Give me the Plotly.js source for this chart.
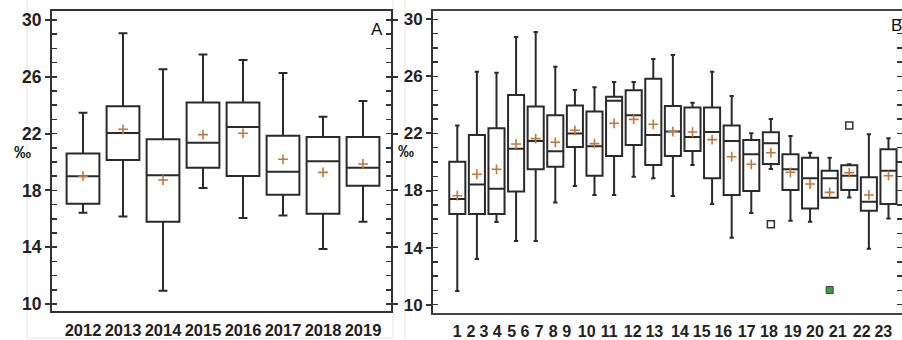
<!DOCTYPE html>
<html>
<head>
<meta charset="utf-8">
<script src="https://cdn.plot.ly/plotly-3.0.1.min.js"></script>
<style>
html,body{margin:0;padding:0;background:#fff;}
#chart{width:902px;height:340px;}
</style>
</head>
<body>
<div id="chart"></div>
<script>
// ---------- Panel A data (by year) ----------
const years = ['2012','2013','2014','2015','2016','2017','2018','2019'];
const aLow  = [16.43, 16.17, 10.94, 18.17, 16.06, 16.24, 13.87, 15.80];
const aQ1   = [17.06, 20.14, 15.80, 19.60, 19.01, 17.70, 16.36, 18.33];
const aMed  = [18.99, 22.04, 19.06, 21.36, 22.46, 19.32, 20.05, 19.60];
const aQ3   = [20.59, 23.92, 21.60, 24.18, 24.18, 21.85, 21.76, 21.76];
const aHigh = [23.47, 29.06, 26.53, 27.56, 27.18, 26.27, 23.19, 24.30];
const aMean = [19.00, 22.30, 18.73, 21.93, 22.02, 20.19, 19.27, 19.86];

// ---------- Panel B data (by site) ----------
const sites = [1,2,3,4,5,6,7,8,9,10,11,12,13,14,15,16,17,18,19,20,21,22,23];
const bLow  = [10.96,13.20,15.79,14.46,14.46,17.17,18.32,17.69,17.69,18.97,18.86,17.62,19.79,17.06,14.70,16.43,19.51,15.89,15.82,17.50,17.52,13.93,16.05];
const bQ1   = [16.36,16.36,16.36,17.94,19.49,19.67,21.05,19.04,20.42,21.19,19.79,20.42,20.77,18.86,17.69,17.97,19.86,18.04,16.75,17.50,18.04,16.59,17.06];
const bMed  = [17.41,18.43,18.13,20.93,21.47,20.75,21.99,21.10,24.30,23.27,21.89,22.13,21.75,22.10,21.47,20.54,21.31,19.49,18.86,18.86,19.04,17.22,19.39];
const bQ3   = [20.02,21.89,22.36,24.70,23.88,23.27,23.95,23.53,24.58,25.02,25.84,23.93,23.81,23.81,22.55,21.54,22.08,20.54,20.30,19.39,19.77,18.93,20.89];
const bHigh = [22.55,26.33,26.26,28.76,29.11,26.68,25.05,25.23,25.61,25.61,27.22,27.50,24.16,26.33,24.63,22.01,23.01,21.82,20.65,20.30,19.84,21.94,21.66];
const bMean = [17.64,19.14,19.49,21.26,21.64,21.38,22.22,21.29,22.71,22.99,22.64,22.13,22.10,21.57,20.37,19.84,20.65,19.28,18.46,17.87,19.25,17.69,19.04];
const bOutX = [17, 21];
const bOutY = [15.63, 22.55];
const bOutGreenX = [20];
const bOutGreenY = [11.03];

// ---------- styling / layout constants ----------
const W = 902, H = 340;
const px = v => v / W;
const py = v => 1 - v / H;
// tick label positions of panel B (the labels in the original are not centred on the boxes)
const bLabelPix = [457.3,471,484,497.3,511.7,525,539.3,553.3,566.7,586.7,609.3,632.7,654.3,680,701.7,723.3,746.7,769,792.7,815,837.7,861.7,883.3];
const bPitch = 19.6, bFirst = 457.3;
const bLabelPos = bLabelPix.map(p => 1 + (p - bFirst) / bPitch);

const FAM = 'Liberation Sans, Arial, sans-serif';
const boxLine = {color:'#2a2a2a', width:2};
const meanColor = '#c2773d';
const xFontA = {family:FAM, size:16.5, color:'#222', weight:'bold'};
const yFontA = {family:FAM, size:17.5, color:'#222', weight:'bold'};
const xFontB = {family:FAM, size:16, color:'#222', weight:'bold'};
const yFontB = {family:FAM, size:17, color:'#222', weight:'bold'};

const traces = [
  {type:'box', x:years, q1:aQ1, median:aMed, q3:aQ3, lowerfence:aLow, upperfence:aHigh,
   xaxis:'x', yaxis:'y', width:0.82, whiskerwidth:0.27, line:boxLine, fillcolor:'#ffffff',
   boxpoints:false, hoverinfo:'skip', showlegend:false},
  {type:'scatter', mode:'markers', x:years, y:aMean, xaxis:'x', yaxis:'y',
   marker:{symbol:'cross-thin', size:7, color:meanColor, line:{color:meanColor, width:1.6}},
   hoverinfo:'skip', showlegend:false},
  {type:'box', x:sites, q1:bQ1, median:bMed, q3:bQ3, lowerfence:bLow, upperfence:bHigh,
   xaxis:'x2', yaxis:'y2', width:0.82, whiskerwidth:0.27, line:boxLine, fillcolor:'#ffffff',
   boxpoints:false, hoverinfo:'skip', showlegend:false},
  {type:'scatter', mode:'markers', x:sites, y:bMean, xaxis:'x2', yaxis:'y2',
   marker:{symbol:'cross-thin', size:7, color:meanColor, line:{color:meanColor, width:1.6}},
   hoverinfo:'skip', showlegend:false},
  {type:'scatter', mode:'markers', x:bOutX, y:bOutY, xaxis:'x2', yaxis:'y2',
   marker:{symbol:'square-open', size:7, color:'#333', line:{color:'#333', width:1.5}},
   hoverinfo:'skip', showlegend:false},
  {type:'scatter', mode:'markers', x:bOutGreenX, y:bOutGreenY, xaxis:'x2', yaxis:'y2',
   marker:{symbol:'square', size:7, color:'#3c9a4a', line:{color:'#2d4d2d', width:1}},
   hoverinfo:'skip', showlegend:false}
];

const yCommon = {
  dtick:4, tick0:10, ticks:'outside', ticklen:5, tickwidth:2, tickcolor:'#333',
  minor:{dtick:1, ticks:'inside', ticklen:5, tickwidth:1.5, tickcolor:'#333'},
  showline:true, linecolor:'#333', linewidth:2, mirror:'ticks',
  showgrid:false, zeroline:false, fixedrange:true
};

const layout = {
  width:W, height:H,
  margin:{l:0, r:0, t:0, b:0},
  paper_bgcolor:'#fff', plot_bgcolor:'#fff',
  showlegend:false,
  xaxis:{domain:[px(52), px(391)], type:'category', range:[-0.775, 7.7], tickangle:0,
    showline:true, linecolor:'#333', linewidth:2, mirror:true,
    ticks:'outside', ticklen:3, tickcolor:'rgba(0,0,0,0)',
    tickfont:xFontA, showgrid:false, zeroline:false, fixedrange:true},
  yaxis:Object.assign({}, yCommon, {domain:[py(311), py(11)], range:[9.51, 30.63], anchor:'x', tickfont:yFontA}),
  xaxis2:{domain:[px(433), 1], range:[-0.24, 23.69], anchor:'y2', tickangle:0,
    tickvals:bLabelPos, ticktext:sites.map(String),
    showline:true, linecolor:'#444', linewidth:2, mirror:true,
    ticks:'outside', ticklen:3, tickcolor:'rgba(0,0,0,0)',
    tickfont:xFontB, showgrid:false, zeroline:false, fixedrange:true},
  yaxis2:Object.assign({}, yCommon, {domain:[py(313), py(11)], range:[9.42, 30.58], anchor:'x2', tickfont:yFontB}),
  annotations:[
    {xref:'paper', yref:'paper', x:px(22), y:py(152), text:'‰', showarrow:false,
     xanchor:'center', yanchor:'middle', font:{family:FAM, size:17, color:'#222', weight:'bold'}},
    {xref:'paper', yref:'paper', x:px(406), y:py(151), text:'‰', showarrow:false,
     xanchor:'center', yanchor:'middle', font:{family:FAM, size:16, color:'#222', weight:'bold'}},
    {xref:'paper', yref:'paper', x:px(377), y:py(29), text:'A', showarrow:false,
     xanchor:'center', yanchor:'middle', font:{family:FAM, size:17, color:'#111'}},
    {xref:'paper', yref:'paper', x:px(896), y:py(26), text:'B', showarrow:false,
     xanchor:'center', yanchor:'middle', font:{family:FAM, size:17, color:'#111'}}
  ],
  shapes:[
    {type:'rect', xref:'paper', yref:'paper', x0:px(27), x1:px(393), y0:py(338), y1:py(-2),
     line:{color:'#e2e2e2', width:1}, layer:'below'},
    {type:'line', xref:'paper', yref:'paper', x0:px(405), x1:px(405), y0:py(338), y1:py(-2),
     line:{color:'#e6e6e6', width:1}, layer:'below'}
  ]
};

Plotly.newPlot('chart', traces, layout, {staticPlot:true, displayModeBar:false});
</script>
</body>
</html>
